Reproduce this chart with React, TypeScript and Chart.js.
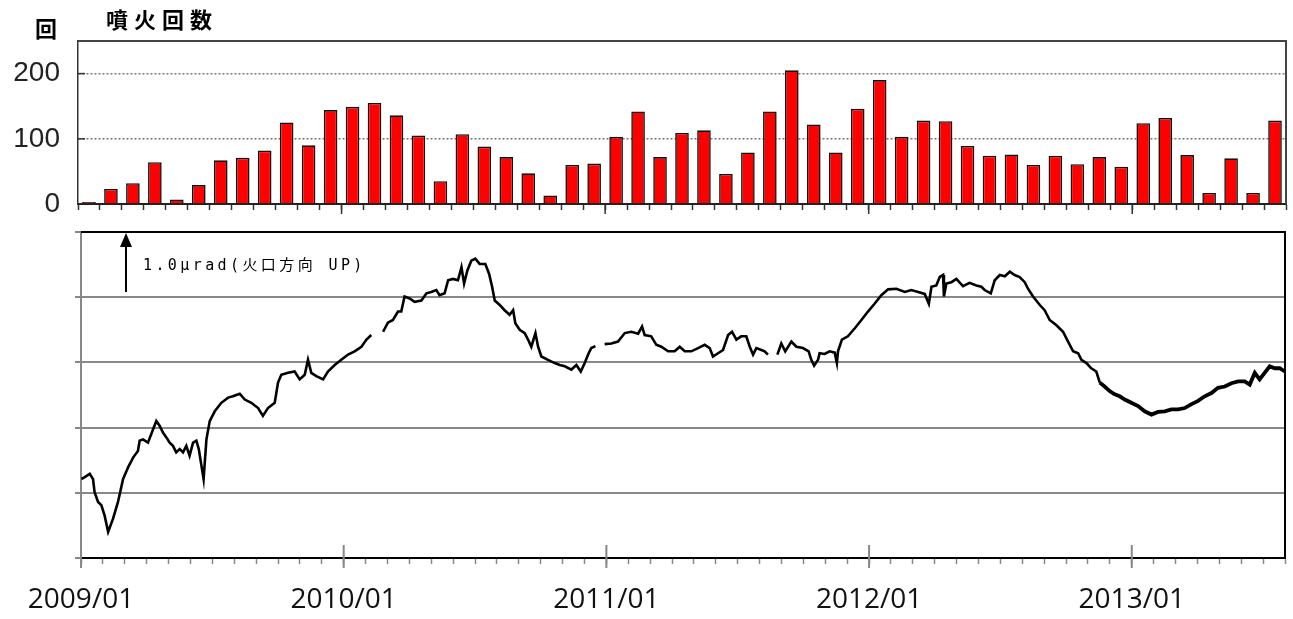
import React, { useEffect, useRef } from 'react';
import { Chart, registerables } from 'chart.js';

Chart.register(...registerables);

// ---------- data ----------
const START_YEAR = 2009;
const MONTH_COUNT = 55;
const months: string[] = Array.from(
  { length: MONTH_COUNT },
  (_, i) => `${START_YEAR + Math.floor(i / 12)}/${String((i % 12) + 1).padStart(2, '0')}`
);

const eruptionCounts = [
  3, 23, 32, 64, 7, 29, 67, 71, 82, 125, 90, 144,
  149, 155, 136, 105, 35, 107, 88, 72, 47, 13, 60, 62,
  103, 142, 72, 109, 113, 46, 79, 142, 205, 122, 79, 146,
  190, 103, 128, 127, 89, 74, 76, 60, 74, 61, 72, 57,
  124, 132, 75, 17, 70, 17, 128,
];

const countTicks = [0, 100, 200];
const yearLabels = ['2009/01', '2010/01', '2011/01', '2012/01', '2013/01'];
const yearTickMonths = [0, 12, 24, 36, 48];
const tiltTicks = [0, 1, 2, 3, 4, 5];

// months since 2009/01 ; tilt in μrad (arbitrary origin), null = data gap
const tiltMonths = [
  0.02, 0.17, 0.40, 0.55, 0.62, 0.78, 0.93, 1.08, 1.24, 1.46, 1.69, 1.92,
  2.15, 2.38, 2.60, 2.68, 2.83, 3.06, 3.29, 3.44, 3.59, 3.75, 3.90, 4.05,
  4.20, 4.35, 4.51, 4.66, 4.81, 4.96, 5.12, 5.27, 5.38, 5.50, 5.60, 5.73,
  5.88, 6.11, 6.41, 6.72, 6.94, 7.25, 7.48, 7.78, 8.09, 8.31, 8.54, 8.85,
  9.00, 9.15, 9.46, 9.76, 9.99, 10.22, 10.37, 10.52, 10.75, 11.06, 11.28, 11.59,
  11.89, 12.20, 12.50, 12.81, 13.04, 13.26, 13.50, 13.80, 14.02, 14.25, 14.48, 14.63,
  14.78, 15.01, 15.24, 15.55, 15.78, 16.00, 16.23, 16.38, 16.61, 16.77, 16.99, 17.22,
  17.38, 17.50, 17.65, 17.83, 18.01, 18.21, 18.47, 18.64, 18.78, 18.90, 19.13, 19.35,
  19.58, 19.74, 19.84, 20.04, 20.27, 20.42, 20.57, 20.76, 20.88, 21.03, 21.33, 21.64,
  21.87, 22.10, 22.40, 22.63, 22.83, 23.01, 23.19, 23.31, 23.50, 23.70, 23.92, 24.23,
  24.53, 24.84, 25.14, 25.45, 25.63, 25.75, 26.05, 26.28, 26.51, 26.82, 27.12, 27.35,
  27.58, 27.88, 28.19, 28.49, 28.72, 28.87, 29.10, 29.33, 29.56, 29.74, 29.94, 30.16,
  30.39, 30.55, 30.70, 30.85, 31.08, 31.23, 31.38, 31.60, 31.81, 31.99, 32.17, 32.45,
  32.68, 32.98, 33.24, 33.36, 33.49, 33.67, 33.74, 33.97, 34.20, 34.43, 34.53, 34.58,
  34.76, 35.03, 35.34, 35.65, 35.95, 36.25, 36.56, 36.87, 37.25, 37.63, 37.93, 38.24,
  38.54, 38.73, 38.85, 39.07, 39.23, 39.38, 39.42, 39.53, 39.76, 39.99, 40.29, 40.59,
  40.90, 41.13, 41.28, 41.56, 41.74, 41.97, 42.20, 42.43, 42.65, 42.88, 43.11, 43.26,
  43.49, 43.80, 44.02, 44.25, 44.56, 44.86, 45.09, 45.32, 45.55, 45.70, 45.93, 46.15,
  46.38, 46.54, 46.76, 46.99, 47.22, 47.45, 47.68, 47.98, 48.29, 48.59, 48.90, 49.20,
  49.51, 49.81, 50.12, 50.42, 50.73, 51.03, 51.33, 51.64, 51.94, 52.25, 52.55, 52.86,
  53.16, 53.39, 53.62, 53.84, 54.07, 54.30, 54.53, 54.76, 54.99,
];

const tiltValues: (number | null)[] = [
  1.21, 1.24, 1.29, 1.21, 1.01, 0.86, 0.81, 0.65, 0.40, 0.60, 0.86, 1.21,
  1.39, 1.54, 1.64, 1.80, 1.82, 1.77, 1.97, 2.10, 2.03, 1.92, 1.85, 1.77,
  1.72, 1.62, 1.67, 1.62, 1.72, 1.57, 1.77, 1.80, 1.67, 1.42, 1.21, 1.82,
  2.10, 2.25, 2.38, 2.46, 2.48, 2.52, 2.43, 2.38, 2.30, 2.18, 2.30, 2.38,
  2.69, 2.81, 2.84, 2.86, 2.74, 2.81, 3.04, 2.84, 2.79, 2.74, 2.86, 2.96,
  3.04, 3.12, 3.17, 3.24, 3.35, 3.42, null, 3.47, 3.61, 3.65, 3.78, 3.78,
  4.01, 3.98, 3.93, 3.95, 4.06, 4.08, 4.11, 4.03, 4.06, 4.26, 4.28, 4.26,
  4.46, 4.21, 4.41, 4.56, 4.59, 4.51, 4.51, 4.36, 4.16, 3.95, 3.88, 3.80,
  3.73, 3.80, 3.60, 3.50, 3.45, 3.35, 3.24, 3.45, 3.24, 3.09, 3.04, 2.99,
  2.96, 2.94, 2.89, 2.96, 2.86, 2.99, 3.14, 3.22, 3.25, null, 3.28, 3.29,
  3.32, 3.45, 3.47, 3.44, 3.55, 3.42, 3.40, 3.27, 3.24, 3.17, 3.17, 3.24,
  3.17, 3.17, 3.22, 3.27, 3.22, 3.09, 3.14, 3.19, 3.42, 3.47, 3.35, 3.40,
  3.40, 3.24, 3.12, 3.22, 3.19, 3.17, 3.12, null, 3.12, 3.29, 3.17, 3.32,
  3.24, 3.22, 3.17, 3.04, 2.95, 3.04, 3.14, 3.13, 3.17, 3.15, 2.99, 3.17,
  3.35, 3.40, 3.52, 3.65, 3.78, 3.90, 4.03, 4.12, 4.13, 4.08, 4.11, 4.08,
  4.05, 3.90, 4.16, 4.18, 4.31, 4.34, 4.01, 4.21, 4.23, 4.28, 4.17, 4.22,
  4.18, 4.16, 4.11, 4.06, 4.26, 4.34, 4.32, 4.39, 4.34, 4.31, 4.23, 4.13,
  4.01, 3.88, 3.80, 3.65, 3.57, 3.47, 3.32, 3.17, 3.14, 3.04, 2.99, 2.91,
  2.86, 2.69, 2.63, 2.56, 2.51, 2.48, 2.43, 2.38, 2.33, 2.25, 2.20, 2.24,
  2.25, 2.28, 2.28, 2.30, 2.36, 2.41, 2.48, 2.53, 2.61, 2.63, 2.68, 2.71,
  2.71, 2.66, 2.84, 2.74, 2.84, 2.94, 2.91, 2.91, 2.86,
];

// annotation arrow: 1.0 μrad scale bar
const arrowMonth = 2.06;
const arrowFrom = 4.08;
const arrowTo = 5.0;

// ---------- plugins ----------
const topFramePlugin = {
  id: 'topFrame',
  afterDraw(chart: any) {
    const { ctx, chartArea: a, scales } = chart;
    ctx.save();
    ctx.strokeStyle = '#444';
    ctx.lineWidth = 2;
    ctx.beginPath();
    ctx.moveTo(a.left, a.top);
    ctx.lineTo(a.right, a.top);
    ctx.lineTo(a.right, a.bottom);
    ctx.stroke();
    ctx.strokeStyle = '#333';
    ctx.lineWidth = 1.5;
    countTicks.forEach((v) => {
      if (v === 0) return;
      const y = scales.y.getPixelForValue(v);
      ctx.beginPath();
      ctx.moveTo(a.left, y);
      ctx.lineTo(a.left + 7, y);
      ctx.stroke();
    });
    const xs = scales.x;
    yearTickMonths.forEach((m) => {
      if (m === 0) return;
      const x = (xs.getPixelForValue(m - 1) + xs.getPixelForValue(m)) / 2;
      ctx.beginPath();
      ctx.moveTo(x, a.bottom);
      ctx.lineTo(x, a.bottom + 10);
      ctx.stroke();
    });
    ctx.restore();
  },
};

const bottomFramePlugin = {
  id: 'bottomFrame',
  afterDraw(chart: any) {
    const { ctx, chartArea: a, scales } = chart;
    const xs = scales.x;
    const ys = scales.y;
    ctx.save();
    ctx.strokeStyle = '#000';
    ctx.lineWidth = 2;
    ctx.beginPath();
    ctx.moveTo(a.left, a.top);
    ctx.lineTo(a.right, a.top);
    ctx.lineTo(a.right, a.bottom);
    ctx.stroke();
    ctx.strokeStyle = '#888';
    ctx.lineWidth = 2;
    yearTickMonths.forEach((m) => {
      const px = xs.getPixelForValue(m);
      ctx.beginPath();
      ctx.moveTo(px, a.bottom - 13);
      ctx.lineTo(px, a.bottom + 10);
      ctx.stroke();
    });
    // arrow
    const ax = Math.round(xs.getPixelForValue(arrowMonth));
    const y0 = ys.getPixelForValue(arrowFrom);
    const y1 = ys.getPixelForValue(arrowTo);
    ctx.strokeStyle = '#000';
    ctx.fillStyle = '#000';
    ctx.lineWidth = 2;
    ctx.beginPath();
    ctx.moveTo(ax, y0);
    ctx.lineTo(ax, y1 + 12);
    ctx.stroke();
    ctx.beginPath();
    ctx.moveTo(ax, y1 + 1);
    ctx.lineTo(ax - 6, y1 + 15);
    ctx.lineTo(ax + 6, y1 + 15);
    ctx.closePath();
    ctx.fill();
    ctx.restore();
  },
};

export default function App() {
  const topRef = useRef<HTMLCanvasElement>(null);
  const botRef = useRef<HTMLCanvasElement>(null);

  useEffect(() => {
    const c1 = new Chart(topRef.current!, {
      type: 'bar',
      data: {
        labels: months,
        datasets: [
          {
            data: eruptionCounts,
            backgroundColor: '#ff0000',
            borderColor: '#111',
            borderWidth: 1.6,
            categoryPercentage: 1,
            barPercentage: 0.62,
          },
        ],
      },
      options: {
        responsive: false,
        animation: false,
        layout: { padding: { left: 0, right: 7, top: 41, bottom: 0 } },
        plugins: { legend: { display: false }, tooltip: { enabled: false } },
        scales: {
          x: {
            type: 'category',
            offset: true,
            grid: {
              offset: true,
              drawOnChartArea: false,
              drawTicks: true,
              tickLength: 6,
              tickColor: '#333',
              tickWidth: 1.5,
              color: '#333',
            },
            border: { display: true, color: '#222', width: 2 },
            ticks: { display: false },
            afterFit: (axis: any) => {
              axis.height = 36;
            },
          },
          y: {
            min: 0,
            max: 250,
            afterBuildTicks: (axis: any) => {
              axis.ticks = countTicks.map((v) => ({ value: v }));
            },
            afterFit: (axis: any) => {
              axis.width = 78;
            },
            grid: {
              drawTicks: false,
              color: (ctx: any) => (ctx.tick && ctx.tick.value === 0 ? 'rgba(0,0,0,0)' : '#777'),
              lineWidth: 1.5,
            },
            border: { display: true, color: '#333', width: 1.5, dash: [2, 2] },
            ticks: {
              padding: 18,
              color: '#222',
              font: { family: '"Liberation Sans", Arial, sans-serif', size: 28 },
            },
          },
        },
      },
      plugins: [topFramePlugin],
    } as any);

    const c2 = new Chart(botRef.current!, {
      type: 'line',
      data: {
        datasets: [
          {
            data: tiltMonths.map((m, i) => ({ x: m, y: tiltValues[i] })),
            borderColor: '#000',
            borderWidth: 2.6,
            pointRadius: 0,
            tension: 0,
            spanGaps: false,
            segment: {
              borderWidth: (ctx: any) => (ctx.p0.parsed.x > 46.5 ? 3.8 : 2.6),
            },
          },
        ],
      },
      options: {
        responsive: false,
        animation: false,
        layout: { padding: { left: 0, right: 0, top: 10, bottom: 0 } },
        plugins: { legend: { display: false }, tooltip: { enabled: false } },
        scales: {
          x: {
            type: 'linear',
            min: 0,
            max: MONTH_COUNT,
            afterBuildTicks: (axis: any) => {
              axis.ticks = months.map((_, i) => ({ value: i })).concat([{ value: MONTH_COUNT }]);
            },
            afterFit: (axis: any) => {
              axis.height = 61;
            },
            grid: {
              drawOnChartArea: false,
              drawTicks: true,
              tickLength: 6,
              color: '#888',
              tickColor: '#888',
              tickWidth: 1.5,
            },
            border: { display: true, color: '#000', width: 2 },
            ticks: {
              autoSkip: false,
              maxRotation: 0,
              minRotation: 0,
              padding: 19,
              color: '#111',
              font: { family: '"Open Sans", sans-serif', size: 28 },
              callback: (v: any) => {
                const idx = yearTickMonths.indexOf(Number(v));
                return idx >= 0 ? yearLabels[idx] : '';
              },
            },
          },
          y: {
            min: 0,
            max: 5,
            afterBuildTicks: (axis: any) => {
              axis.ticks = tiltTicks.map((v) => ({ value: v }));
            },
            afterFit: (axis: any) => {
              axis.width = 81;
            },
            grid: {
              drawTicks: true,
              tickLength: 6,
              tickColor: '#888',
              tickWidth: 2,
              lineWidth: 2,
              color: (ctx: any) =>
                ctx.tick && (ctx.tick.value === 0 || ctx.tick.value === 5) ? 'rgba(0,0,0,0)' : '#888',
            },
            border: { display: true, color: '#888', width: 2 },
            ticks: { display: false },
          },
        },
      },
      plugins: [bottomFramePlugin],
    } as any);

    return () => {
      c1.destroy();
      c2.destroy();
    };
  }, []);

  return (
    <div
      style={{
        position: 'absolute',
        left: 0,
        top: 0,
        width: 1293,
        height: 619,
        background: '#fff',
        overflow: 'hidden',
      }}
    >
      <canvas ref={topRef} width={1293} height={240} style={{ position: 'absolute', left: 0, top: 0 }} />
      <canvas ref={botRef} width={1304} height={397} style={{ position: 'absolute', left: 0, top: 222 }} />
      <div
        style={{
          position: 'absolute',
          left: 35,
          top: 16,
          fontFamily: '"Noto Sans CJK JP", sans-serif',
          fontWeight: 700,
          fontSize: 22,
          lineHeight: '22px',
          color: '#000',
          whiteSpace: 'nowrap',
        }}
      >
        回
      </div>
      <div
        style={{
          position: 'absolute',
          left: 106,
          top: 7,
          fontFamily: '"Noto Sans CJK JP", sans-serif',
          fontWeight: 700,
          fontSize: 22,
          lineHeight: '22px',
          letterSpacing: 6,
          color: '#000',
          whiteSpace: 'nowrap',
        }}
      >
        噴火回数
      </div>
      <div
        style={{
          position: 'absolute',
          left: 143,
          top: 257,
          fontFamily: '"DejaVu Sans Mono", "Noto Sans CJK JP", monospace',
          fontSize: 15,
          lineHeight: '16px',
          letterSpacing: 3.4,
          color: '#000',
          whiteSpace: 'nowrap',
        }}
      >
        1.0μrad(火口方向 UP)
      </div>
    </div>
  );
}
